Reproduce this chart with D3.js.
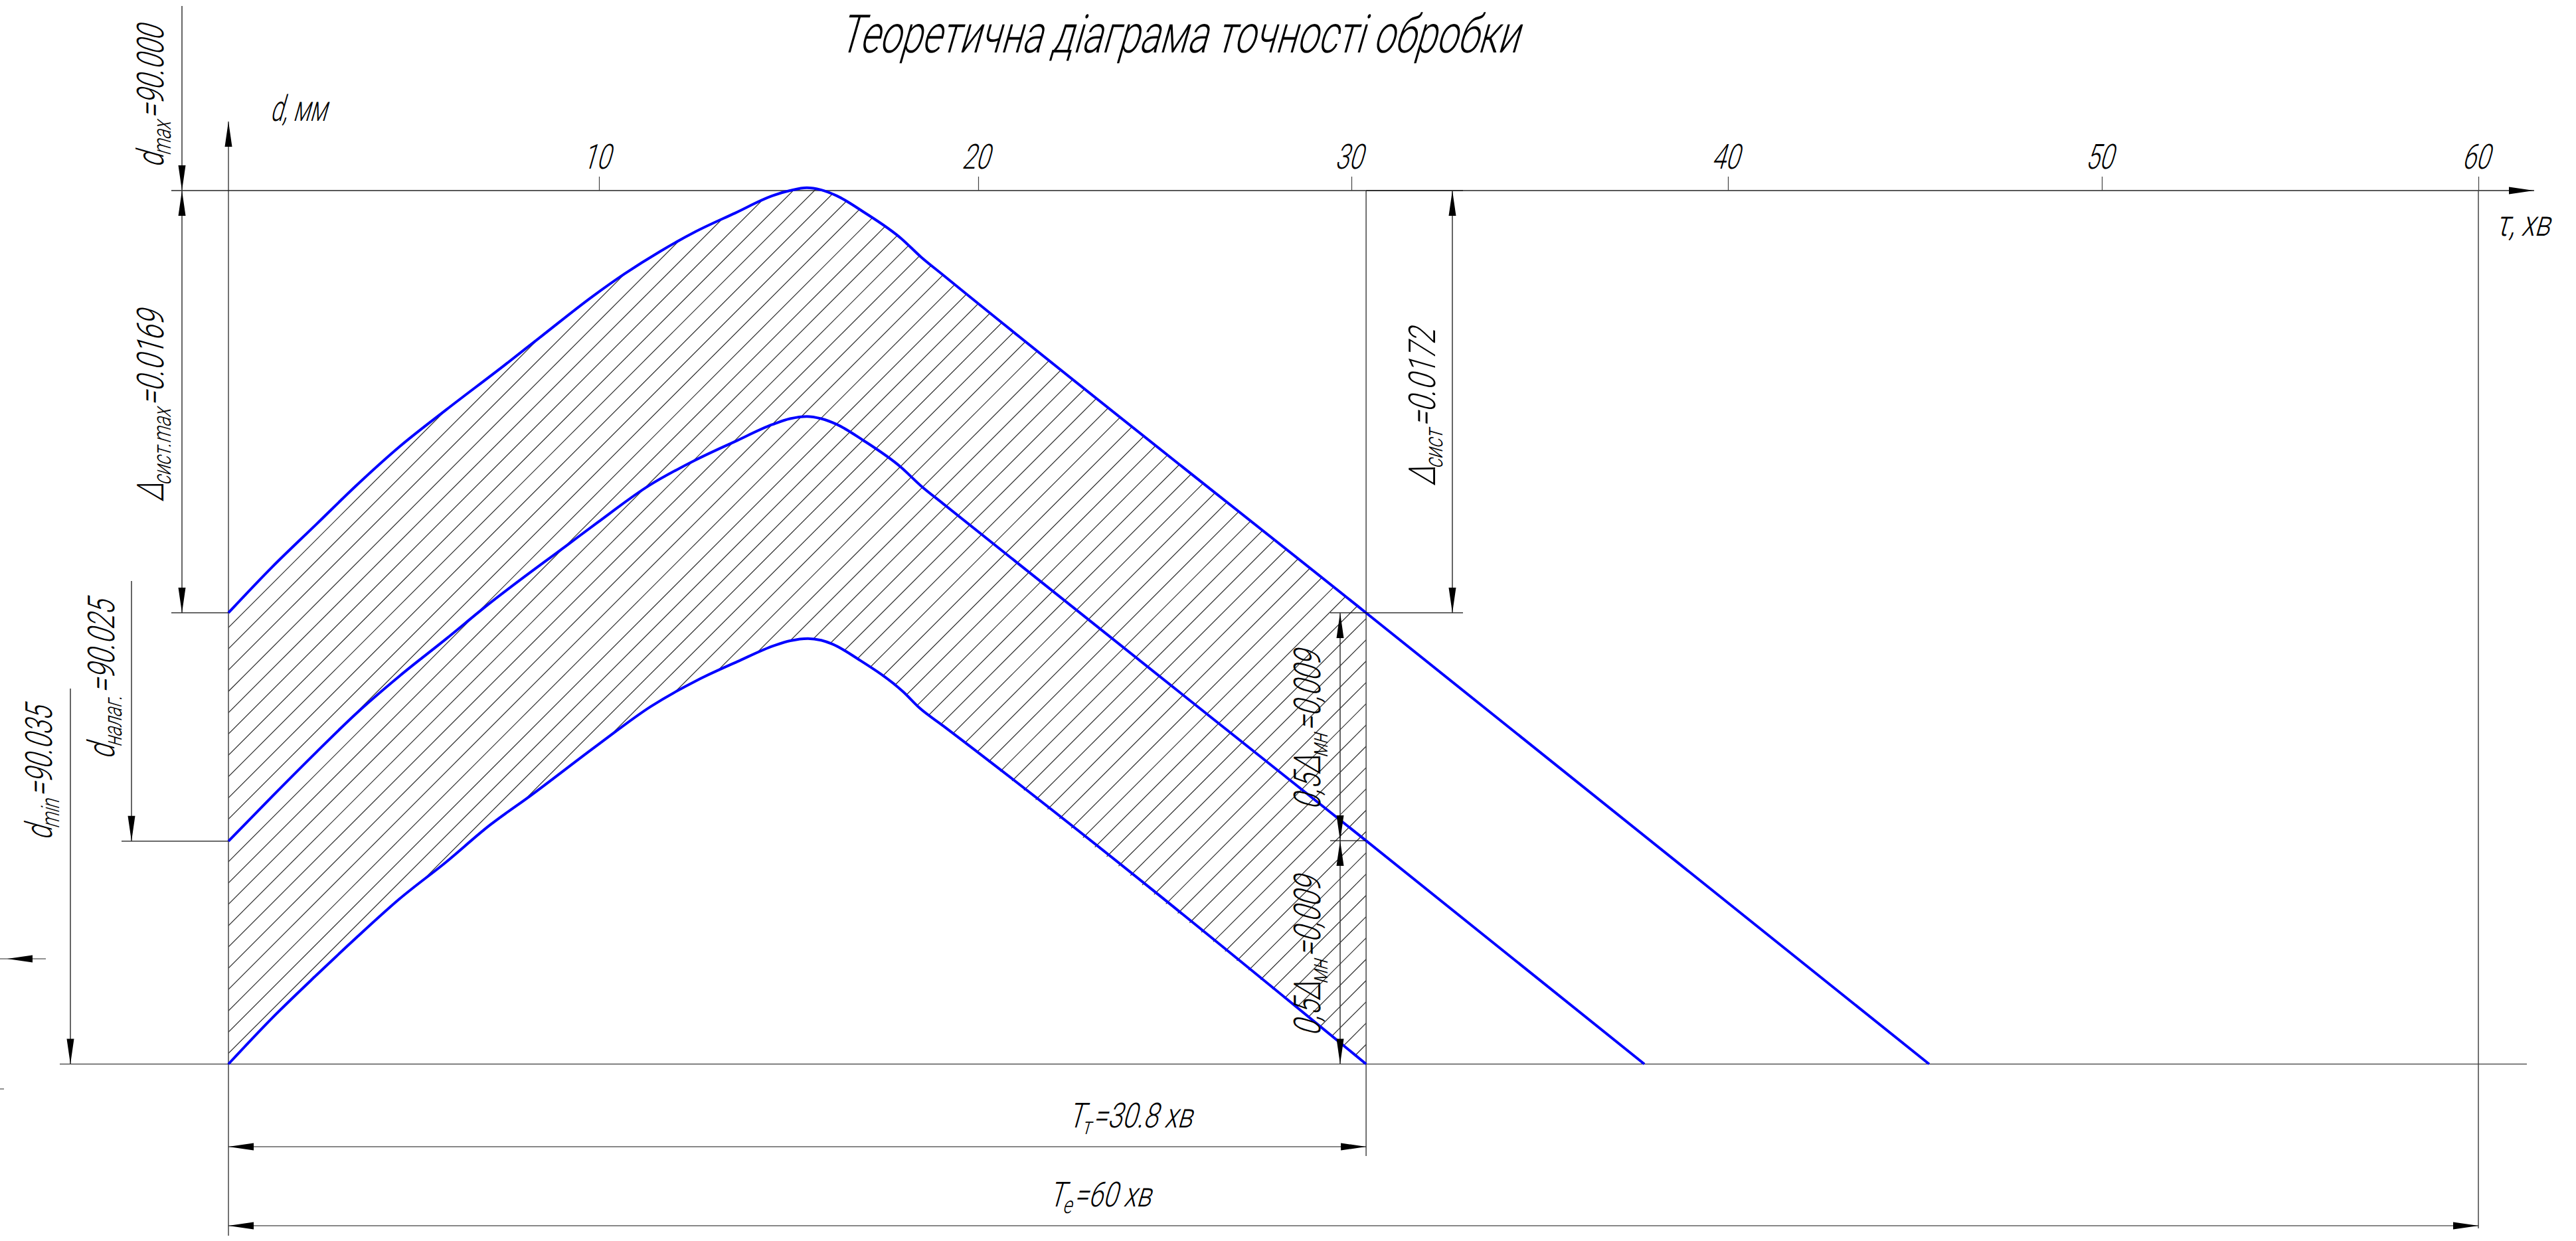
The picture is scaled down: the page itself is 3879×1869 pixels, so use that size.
<!DOCTYPE html>
<meta charset="utf-8">
<style>
html, body { margin: 0; background: #fff; }
svg { display: block; }
text { font-family: Roboto, "Liberation Sans", sans-serif; font-weight: 300; fill: #000; }
</style>
<body>
<svg width="3879" height="1869"></svg>
</body>
<script src="https://d3js.org/d3.v7.min.js"></script>
<script>

// tick labels of the time axis, minutes
var tau_ticks = [10, 20, 30, 40, 50, 60];

// upper limit curve
var tau_upper = [0, 1.19, 2.38, 3.45, 4.61, 5.87, 7.43, 8.47, 9.81, 10.68, 11.61, 12.54, 13.59, 14.57, 15.04, 15.48, 15.85, 16.27, 16.97, 17.97, 18.49, 19.07, 30.39, 45.38];
var d_upper = [90.01692, 90.01507, 90.01336, 90.01182, 90.01027, 90.00879, 90.00702, 90.00581, 90.00426, 90.00333, 90.00244, 90.00165, 90.0009, 90.00021, 90, 89.99989, 89.99997, 90.00021, 90.00085, 90.00192, 90.00266, 90.00338, 90.01692, 90.035];

// setting curve
var tau_setting = [0, 1.19, 2.38, 3.45, 4.61, 5.87, 6.98, 9.21, 9.96, 11.31, 12.53, 13.58, 14.58, 15.04, 15.48, 15.86, 16.27, 16.97, 17.96, 18.49, 19.07, 30.39, 37.78];
var d_setting = [90.02607, 90.02426, 90.02249, 90.02095, 90.01946, 90.01797, 90.01662, 90.01413, 90.0133, 90.01183, 90.01081, 90.01006, 90.00937, 90.00914, 90.00905, 90.00914, 90.00937, 90.01001, 90.01108, 90.01183, 90.01254, 90.02605, 90.035];

// lower limit curve
var tau_lower = [0, 1.19, 2.38, 3.45, 4.61, 5.87, 7.06, 8.14, 9.96, 11.37, 12.59, 13.64, 14.64, 15.04, 15.51, 15.86, 16.15, 16.85, 18.02, 18.46, 19.07, 30.39];
var d_lower = [90.035, 90.03314, 90.03143, 90.02994, 90.02839, 90.02691, 90.02542, 90.02426, 90.02222, 90.02067, 90.01962, 90.01888, 90.01822, 90.01804, 90.01795, 90.01802, 90.01817, 90.01879, 90.02008, 90.02074, 90.02144, 90.035];

var tau_machined = 30.39;
var tau_total = 60;
var d_max = 90;
var d_min = 90.035;

var svg = d3.select("svg");

// the drawing's ticks are not quite evenly spaced, so the scale goes through each of them
var x = d3.scaleLinear().domain([0].concat(tau_ticks)).range([344, 902, 1473, 2035, 2602, 3165, 3732]);
var y = d3.scaleLinear().domain([d_max, d_min]).range([287, 1602.5]);

function zip(taus, ds) {
    return taus.map(function(t, i) { return [t, ds[i]]; });
}
var upper = zip(tau_upper, d_upper);
var setting = zip(tau_setting, d_setting);
var lower = zip(tau_lower, d_lower);

var curve_line = d3.line()
    .x(function(p) { return x(p[0]); })
    .y(function(p) { return y(p[1]); })
    .curve(d3.curveMonotoneX);

// hatching, clipped to the band between upper and lower curves up to the machined time
var band = d3.line()
    .x(function(p) { return x(p[0]); })
    .y(function(p) { return y(p[1]); })(upper.slice(0, -1).concat(lower.slice().reverse())) + "Z";

svg.append("clipPath").attr("id", "band").append("path").attr("d", band);

var hatch = svg.append("g").attr("clip-path", "url(#band)");
d3.range(-22, 54).forEach(function(k) {
    var c = 1930.4 + 32.07 * k;
    hatch.append("line")
        .attr("x1", x(0)).attr("y1", c - x(0))
        .attr("x2", x(tau_machined)).attr("y2", c - x(tau_machined))
        .attr("stroke", "#2a2a2a").attr("stroke-width", 1.2);
});

// line helpers
function rule(x1, y1, x2, y2, colour, width) {
    svg.append("line")
        .attr("x1", x1).attr("y1", y1).attr("x2", x2).attr("y2", y2)
        .attr("stroke", colour || "#333").attr("stroke-width", width || 1.5);
}

// arrow head with its tip at (tx, ty), pointing along (dx, dy)
function head(tx, ty, dx, dy) {
    var len = 38, half = 5.5;
    svg.append("path")
        .attr("fill", "#000")
        .attr("d", "M" + tx + "," + ty +
            "L" + (tx - dx * len - dy * half) + "," + (ty - dy * len - dx * half) +
            "L" + (tx - dx * len + dy * half) + "," + (ty - dy * len + dx * half) + "Z");
}

// axes
rule(x(0), 183, x(0), 1861, "#444", 1.5);
rule(258, y(d_max), 3816, y(d_max), "#222", 1.5);
rule(90, y(d_min), 3805, y(d_min), "#111", 1.2);
head(x(0), 183, 0, -1);
head(3816, y(d_max), 1, 0);

var axis = svg.append("g")
    .attr("transform", "translate(0," + y(d_max) + ")")
    .call(d3.axisTop(x).tickValues(tau_ticks).tickSize(21).tickPadding(12).tickSizeOuter(0));
axis.select(".domain").remove();
axis.selectAll(".tick line").attr("stroke", "#444").attr("stroke-width", 1.2);
axis.selectAll(".tick text")
    .attr("font-size", 52).attr("y", 0).attr("dy", 0).attr("fill", "#000").attr("text-anchor", "middle")
    .style("font-family", "Roboto").style("font-weight", 300)
    .attr("transform", "translate(-5,-33) skewX(-16) scale(0.72,1)");

// verticals that carry the time dimensions
rule(x(tau_machined), y(d_max), x(tau_machined), 1741, "#444", 1.5);
rule(x(tau_total), y(d_max), x(tau_total), 1850, "#444", 1.5);

// blue curves
[upper, setting, lower].forEach(function(c) {
    svg.append("path").attr("d", curve_line(c))
        .attr("fill", "none").attr("stroke", "#0000ff").attr("stroke-width", 4);
});

// dimension lines on the left
var col_a = 274, col_b = 198, col_c = 106;
rule(col_a, 9, col_a, y(d_max));
head(col_a, y(d_max), 0, 1);
rule(col_a, y(d_max), col_a, y(d_upper[0]));
head(col_a, y(d_max), 0, -1);
head(col_a, y(d_upper[0]), 0, 1);
rule(258, y(d_upper[0]), x(0), y(d_upper[0]), "#111", 1.2);

rule(col_b, 875, col_b, y(d_setting[0]));
head(col_b, y(d_setting[0]), 0, 1);
rule(183, y(d_setting[0]), x(0), y(d_setting[0]), "#111", 1.2);

rule(col_c, 1037, col_c, y(d_min));
head(col_c, y(d_min), 0, 1);

// stray bits at the left edge
rule(0, 1444, 69, 1444, "#222", 1);
head(11, 1444, -1, 0);
rule(0, 1640, 6, 1640, "#222", 1);

// dimension lines on the right
var col_r = 2187, col_m = 2018;
var y_r = y(d_upper[d_upper.length - 2]);
var y_m = y(d_setting[d_setting.length - 2]);
rule(x(tau_machined), y(d_max), 2203, y(d_max), "#222", 1.5);
rule(col_r, y(d_max), col_r, y_r);
head(col_r, y(d_max), 0, -1);
head(col_r, y_r, 0, 1);
rule(2003, y_r, 2203, y_r, "#111", 1.2);

rule(col_m, y_r, col_m, y(d_min));
head(col_m, y_r, 0, -1);
head(col_m, y_m, 0, 1);
head(col_m, y_m, 0, -1);
head(col_m, y(d_min), 0, 1);
rule(2003, y_m, x(tau_machined), y_m, "#111", 1.2);

// time dimensions
rule(x(0), 1727, x(tau_machined), 1727, "#111", 1.2);
head(x(0), 1727, -1, 0);
head(x(tau_machined), 1727, 1, 0);
rule(x(0), 1846, x(tau_total), 1846, "#111", 1.2);
head(x(0), 1846, -1, 0);
head(x(tau_total), 1846, 1, 0);

// condensed slanted lettering, stretched to the width it has in the drawing
// parts: [text, "sub"|"", back up after a subscript]
function letter(px, py, angle, size, width, parts) {
    var t = svg.append("text").attr("font-size", size);
    parts.forEach(function(p) {
        var sub = p[1] == "sub";
        t.append("tspan")
            .attr("font-size", sub ? size * 0.68 : size)
            .attr("dy", sub ? size * 0.2 : (p[2] ? -size * 0.2 : 0))
            .text(p[0]);
    });
    var lean = Math.tan(16 * Math.PI / 180);
    var s = (width - lean * size * 0.7) / t.node().getComputedTextLength();
    t.attr("transform", "translate(" + px + "," + py + ") rotate(" + angle + ") skewX(-16) scale(" + s + ",1)");
}

letter(1262, 79, 0, 80, 1040, [["Теоретична діаграма точності обробки"]]);
letter(406, 182, 0, 54, 96, [["d, мм"]]);
letter(3757, 355, 0, 54, 93, [["τ, хв"]]);

letter(246, 253, -90, 56, 224, [["d"], ["max", "sub"], ["=90.000", "", 1]]);
letter(246, 756, -90, 56, 298, [["Δ"], ["сист.max", "sub"], ["=0.0169", "", 1]]);
letter(172, 1144, -90, 56, 250, [["d"], ["налаг.", "sub"], ["=90.025", "", 1]]);
letter(78, 1266, -90, 56, 212, [["d"], ["min", "sub"], ["=90.035", "", 1]]);
letter(2161, 732, -90, 56, 247, [["Δ"], ["сист", "sub"], ["=0.0172", "", 1]]);
letter(1988, 1220, -90, 56, 250, [["0,5Δ"], ["мн", "sub"], ["=0,009", "", 1]]);
letter(1988, 1561, -90, 56, 251, [["0,5Δ"], ["мн", "sub"], ["=0,009", "", 1]]);
letter(1608, 1698, 0, 52, 197, [["T"], ["т", "sub"], ["=30.8 хв", "", 1]]);
letter(1579, 1817, 0, 52, 164, [["T"], ["е", "sub"], ["=60 хв", "", 1]]);

</script>
